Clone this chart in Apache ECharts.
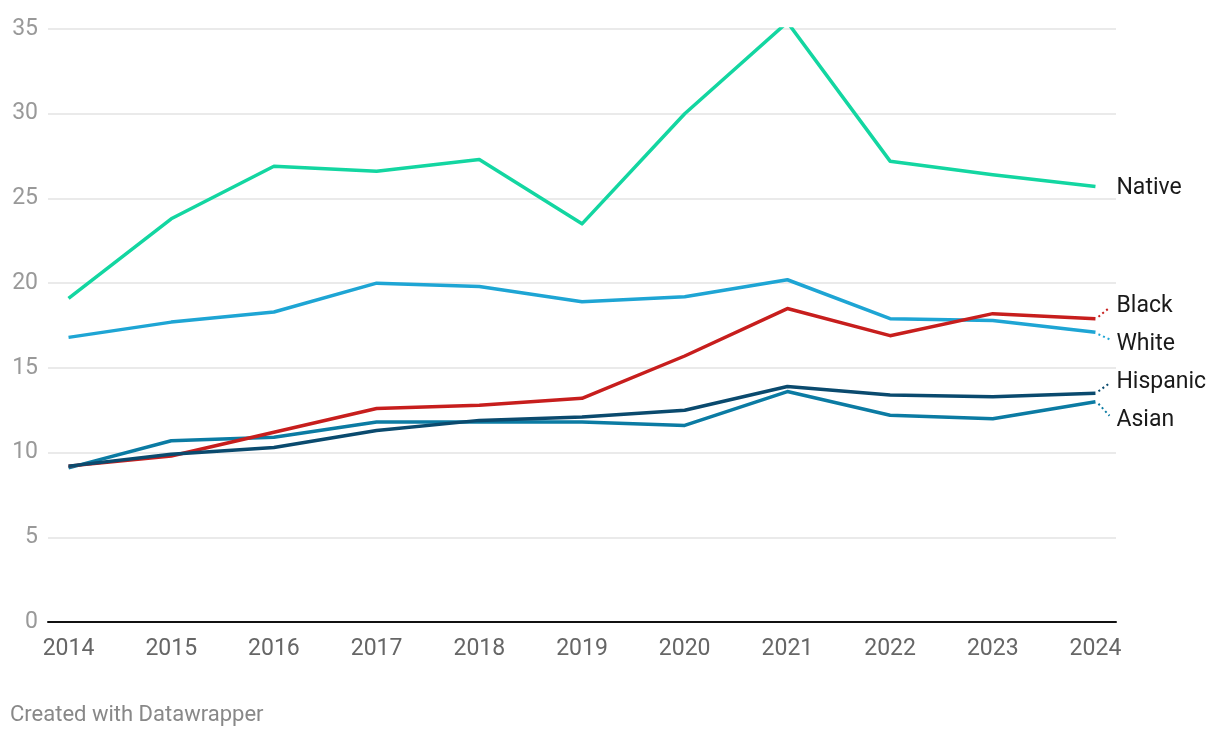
<!DOCTYPE html>
<html><head><meta charset="utf-8">
<script src="https://cdn.jsdelivr.net/npm/echarts@6/dist/echarts.min.js"></script>
<style>html,body{margin:0;padding:0;background:#fff}#c{width:1220px;height:738px}</style>
</head><body><div id="c"></div>
<script>
const years = [2014,2015,2016,2017,2018,2019,2020,2021,2022,2023,2024];
const yTicks = [0,5,10,15,20,25,30,35];
const native   = [19.1,23.8,26.9,26.6,27.3,23.5,30.0,35.4,27.2,26.4,25.7];
const white    = [16.8,17.7,18.3,20.0,19.8,18.9,19.2,20.2,17.9,17.8,17.1];
const black    = [9.2,9.8,11.2,12.6,12.8,13.2,15.7,18.5,16.9,18.2,17.9];
const hispanic = [9.2,9.9,10.3,11.3,11.9,12.1,12.5,13.9,13.4,13.3,13.5];
const asian    = [9.1,10.7,10.9,11.8,11.8,11.8,11.6,13.6,12.2,12.0,13.0];
const seriesNames = ['Native','White','Black','Hispanic','Asian'];
const seriesValues = [native, white, black, hispanic, asian];
const colors = ['#13d6a1','#1ea5d4','#c71e1d','#0a4a6e','#0b7ba3'];
const labelDy = [0, 10, -14, -13, 17];

const chart = echarts.init(document.getElementById('c'));
const font = 'Roboto, "Noto Sans", sans-serif';
const order = [0,1,4,2,3];
const series = order.map(i => ({
  name: seriesNames[i],
  type: 'line',
  data: years.map((y, k) => [y, seriesValues[i][k]]),
  symbol: 'none',
  lineStyle: {color: colors[i], width: 3.5, join: 'round'},
  itemStyle: {color: colors[i]},
  silent: true,
  endLabel: {
    show: true,
    formatter: seriesNames[i],
    color: '#1a1a1a',
    fontFamily: font,
    fontSize: 23,
    distance: 21,
    offset: [0, labelDy[i] + 2]
  }
}));

chart.setOption({
  animation: false,
  backgroundColor: '#fff',
  grid: {left: 48, right: 104, top: 29, bottom: 116},
  xAxis: {
    type: 'value', min: 2013.8, max: 2024.2,
    axisLine: {show: true, lineStyle: {color: '#111', width: 2}},
    axisTick: {show: false},
    splitLine: {show: false},
    axisLabel: {customValues: years, color: '#666', fontFamily: font, fontSize: 23, margin: 16,
      formatter: v => String(Math.round(v))}
  },
  yAxis: {
    type: 'value', min: 0, max: 35, interval: 5,
    axisLine: {show: false}, axisTick: {show: false},
    splitLine: {lineStyle: {color: '#e3e3e3', width: 1.5}},
    axisLabel: {color: '#999', fontFamily: font, fontSize: 23, margin: 10,
      formatter: v => yTicks.includes(v) ? String(v) : ''}
  },
  series: series
});

const leaders = [];
seriesNames.forEach((n, i) => {
  if (labelDy[i] === 0) return;
  const last = seriesValues[i][seriesValues[i].length - 1];
  const p = chart.convertToPixel({gridIndex: 0}, [years[years.length - 1], last]);
  const dir = labelDy[i] > 0 ? 1 : -1;
  const reach = Math.abs(labelDy[i]) - 3;
  leaders.push({
    type: 'line', silent: true,
    shape: {x1: p[0] + 3, y1: p[1] + dir * 2, x2: p[0] + 14, y2: p[1] + dir * reach},
    style: {stroke: colors[i], lineWidth: 2, lineDash: [2, 3]}
  });
});
chart.setOption({graphic: [{
  type: 'text', left: 10, top: 704,
  style: {text: 'Created with Datawrapper', fill: '#888', font: '22px ' + font}
}].concat(leaders)});
</script></body></html>
